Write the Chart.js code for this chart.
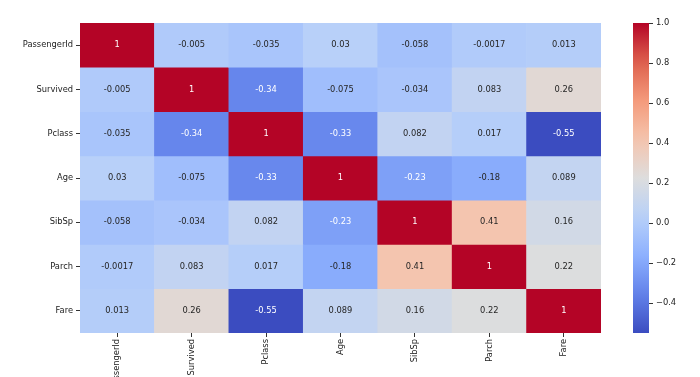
<!DOCTYPE html>
<html>
<head>
    <meta charset="UTF-8">
    <title>Correlation Heatmap</title>
    <script src="https://cdn.jsdelivr.net/npm/chart.js"></script>
    <style>
        body { margin: 0; background: #fff; }
        #wrap { position: relative; width: 700px; height: 377px; overflow: hidden; }
        #heat { position: absolute; left: 0; top: 0; }
        #cbar { position: absolute; left: 600px; top: 0; }
    </style>
</head>
<body>
<div id="wrap">
    <canvas id="heat" width="700" height="377"></canvas>
    <canvas id="cbar" width="100" height="377"></canvas>
</div>

<script>
    // columns / rows of the matrix
    var features = ['PassengerId', 'Survived', 'Pclass', 'Age', 'SibSp', 'Parch', 'Fare'];

    // correlation values, one array per row
    var rowPassengerId = [1, -0.005, -0.035, 0.03, -0.058, -0.0017, 0.013];
    var rowSurvived    = [-0.005, 1, -0.34, -0.075, -0.034, 0.083, 0.26];
    var rowPclass      = [-0.035, -0.34, 1, -0.33, 0.082, 0.017, -0.55];
    var rowAge         = [0.03, -0.075, -0.33, 1, -0.23, -0.18, 0.089];
    var rowSibSp       = [-0.058, -0.034, 0.082, -0.23, 1, 0.41, 0.16];
    var rowParch       = [-0.0017, 0.083, 0.017, -0.18, 0.41, 1, 0.22];
    var rowFare        = [0.013, 0.26, -0.55, 0.089, 0.16, 0.22, 1];
    var matrix = [rowPassengerId, rowSurvived, rowPclass, rowAge, rowSibSp, rowParch, rowFare];

    // colorbar range and ticks
    var vmin = -0.55, vmax = 1;
    var cbarTicks = [-0.4, -0.2, 0.0, 0.2, 0.4, 0.6, 0.8, 1.0];

    var FONT = { family: 'DejaVu Sans', size: 8.3 };
    Chart.defaults.font.family = FONT.family;
    Chart.defaults.font.size = FONT.size;
    Chart.defaults.color = '#222';

    // coolwarm stops
    var cw = [
        [0.0, 59, 76, 192], [0.125, 98, 130, 234], [0.25, 141, 176, 254],
        [0.375, 184, 208, 249], [0.5, 221, 221, 221], [0.625, 245, 196, 173],
        [0.75, 244, 154, 123], [0.875, 222, 96, 77], [1.0, 180, 4, 38]
    ];
    function coolwarm(t) {
        t = Math.max(0, Math.min(1, t));
        for (var i = 1; i < cw.length; i++) {
            if (t <= cw[i][0]) {
                var a = cw[i - 1], b = cw[i];
                var f = (t - a[0]) / (b[0] - a[0]);
                return [0, 1, 2].map(function (k) { return Math.round(a[k + 1] + (b[k + 1] - a[k + 1]) * f); });
            }
        }
        return cw[cw.length - 1].slice(1);
    }
    function rgb(c) { return 'rgb(' + c.join(',') + ')'; }
    function norm(v) { return (v - vmin) / (vmax - vmin); }
    // relative luminance like seaborn does it
    function luminance(c) {
        var l = c.map(function (x) {
            x = x / 255;
            return x <= 0.03928 ? x / 12.92 : Math.pow((x + 0.055) / 1.055, 2.4);
        });
        return 0.2126 * l[0] + 0.7152 * l[1] + 0.0722 * l[2];
    }

    // one dataset per row, floating bars [r, r+1]
    var datasets = matrix.map(function (row, r) {
        return {
            label: features[r],
            data: row.map(function () { return [r, r + 1]; }),
            values: row,
            backgroundColor: row.map(function (v) { return rgb(coolwarm(norm(v))); }),
            borderWidth: 0,
            barPercentage: 1,
            categoryPercentage: 1
        };
    });

    // cell annotations
    var annotate = {
        id: 'annotate',
        afterDatasetsDraw: function (chart) {
            var ctx = chart.ctx;
            ctx.save();
            ctx.font = FONT.size + 'px ' + FONT.family;
            ctx.textAlign = 'center';
            ctx.textBaseline = 'middle';
            chart.data.datasets.forEach(function (ds, i) {
                chart.getDatasetMeta(i).data.forEach(function (el, j) {
                    var v = ds.values[j];
                    var c = coolwarm(norm(v));
                    ctx.fillStyle = luminance(c) > 0.408 ? '#262626' : '#ffffff';
                    ctx.fillText(String(v), el.x, (el.y + el.base) / 2);
                });
            });
            ctx.restore();
        }
    };

    new Chart(document.getElementById('heat'), {
        type: 'bar',
        data: { labels: features, datasets: datasets },
        plugins: [annotate],
        options: {
            responsive: false,
            animation: false,
            events: [],
            layout: { padding: { top: 23, right: 99, bottom: 0, left: 0 } },
            plugins: { legend: { display: false }, tooltip: { enabled: false } },
            scales: {
                x: {
                    stacked: true,
                    grid: { display: true, offset: false, drawOnChartArea: false, drawTicks: true, tickLength: 4, color: '#333' },
                    border: { display: false },
                    ticks: { minRotation: 90, maxRotation: 90, autoSkip: false, padding: 2, color: '#222' },
                    afterFit: function (s) { s.height = 44; }
                },
                y: {
                    stacked: false,
                    reverse: true,
                    min: 0, max: 7,
                    grid: { display: true, drawOnChartArea: false, drawTicks: true, tickLength: 4, color: '#333' },
                    border: { display: false },
                    afterBuildTicks: function (s) {
                        s.ticks = features.map(function (_, i) { return { value: i + 0.5 }; });
                    },
                    ticks: {
                        autoSkip: false, padding: 3, color: '#222',
                        callback: function (v, i) { return features[i]; }
                    },
                    afterFit: function (s) { s.width = 80; }
                }
            }
        }
    });

    // colorbar
    new Chart(document.getElementById('cbar'), {
        type: 'bar',
        data: {
            labels: [''],
            datasets: [{
                data: [[vmin, vmax]],
                borderWidth: 0,
                barPercentage: 1,
                categoryPercentage: 1,
                backgroundColor: function (c) {
                    var area = c.chart.chartArea;
                    if (!area) return null;
                    var g = c.chart.ctx.createLinearGradient(0, area.bottom, 0, area.top);
                    for (var i = 0; i <= 20; i++) {
                        g.addColorStop(i / 20, rgb(coolwarm(i / 20)));
                    }
                    return g;
                }
            }]
        },
        options: {
            responsive: false,
            animation: false,
            events: [],
            layout: { padding: { top: 23, right: 0, bottom: 44, left: 33 } },
            plugins: { legend: { display: false }, tooltip: { enabled: false } },
            scales: {
                x: { display: false },
                y: {
                    position: 'right',
                    min: vmin, max: vmax,
                    grid: { display: true, drawOnChartArea: false, drawTicks: true, tickLength: 4, color: '#333' },
                    border: { display: false },
                    afterBuildTicks: function (s) {
                        s.ticks = cbarTicks.map(function (v) { return { value: v }; });
                    },
                    ticks: {
                        padding: 3, color: '#222',
                        callback: function (v) { return v.toFixed(1).replace('-', '\u2212'); }
                    },
                    afterFit: function (s) { s.width = 51; }
                }
            }
        }
    });
</script>
</body>
</html>
